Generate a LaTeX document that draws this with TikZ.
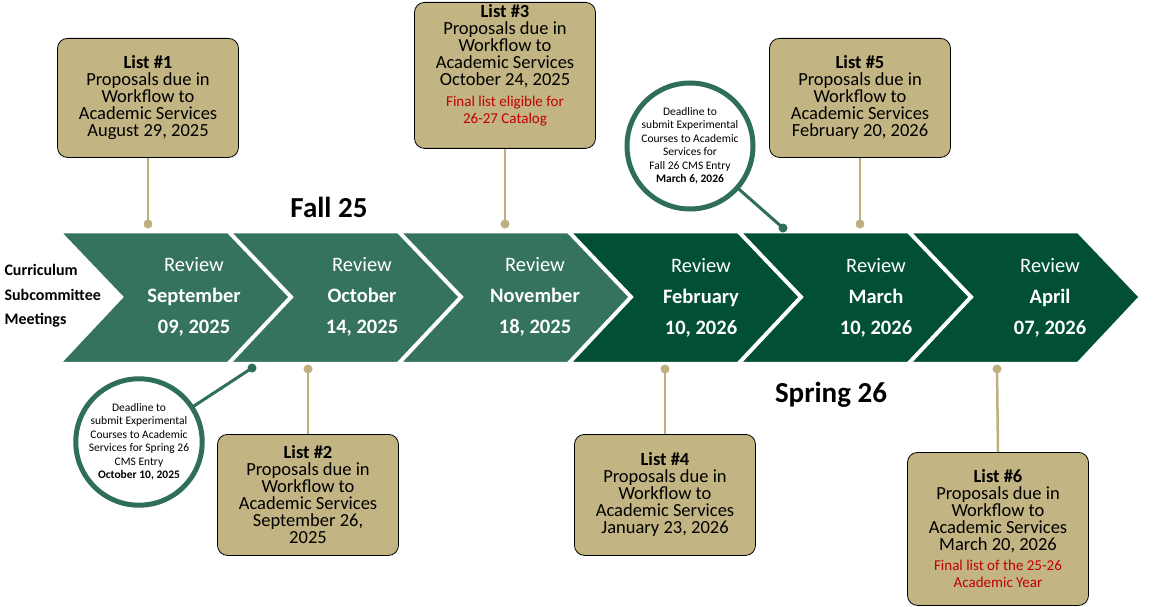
\documentclass[tikz,border=0pt]{standalone}
\usepackage{fontspec}
\setmainfont{Carlito}
\definecolor{lg}{HTML}{35735F}
\definecolor{dg}{HTML}{024F38}
\definecolor{tan}{HTML}{C2B483}
\definecolor{stem}{HTML}{BDAF7E}
\definecolor{ring}{HTML}{2F6E5A}
\definecolor{red}{HTML}{C00000}
\begin{document}
\begin{tikzpicture}[x=1pt,y=-1pt,
  lbox/.style={draw=black,fill=tan,rounded corners=10pt,line width=0.8pt,minimum width=181pt,align=center,anchor=north,inner sep=2pt,font=\fontsize{18.5}{17}\selectfont},
  stemline/.style={draw=stem,line width=2.5pt},
  sdot/.style={circle,fill=stem,inner sep=0pt,minimum size=9pt},
  gdot/.style={circle,fill=ring,inner sep=0pt,minimum size=9pt},
  ringc/.style={circle,draw=ring,line width=5pt,fill=white,minimum size=122pt,align=center,inner sep=0pt,font=\fontsize{11.5}{13.5}\selectfont},
  rev/.style={text=white,align=center,font=\fontsize{20.5}{31}\selectfont}]
\useasboundingbox (0,0) rectangle (1159,607);
% chevrons
\foreach \i/\c in {0/lg,1/lg,2/lg,3/dg,4/dg,5/dg}{
  \pgfmathsetmacro\xo{60+170*\i}
  \filldraw[fill=\c,draw=white,line width=2.5pt,line join=miter] (\xo,232) -- (\xo+168,232) -- (\xo+230,297) -- (\xo+168,363) -- (\xo,363) -- (\xo+62,297) -- cycle;
}
\node[rev] (r1) at (194,297) {Review\\\textbf{September}\\\textbf{09, 2025}};
\node[rev] (r2) at (362,297) {Review\\\textbf{October}\\\textbf{14, 2025}};
\node[rev] (r3) at (535,297) {Review\\\textbf{November}\\\textbf{18, 2025}};
\node[rev] (r4) at (701,298) {Review\\\textbf{February}\\\textbf{10, 2026}};
\node[rev] (r5) at (876,298) {Review\\\textbf{March}\\\textbf{10, 2026}};
\node[rev] (r6) at (1050,298) {Review\\\textbf{April}\\\textbf{07, 2026}};
\node[align=left,anchor=west,font=\fontsize{16}{24.5}\bfseries\selectfont] (cur) at (1,296) {Curriculum\\Subcommittee\\Meetings};
\node[font=\fontsize{29}{30}\bfseries\selectfont] (fall) at (329,207) {Fall 25};
\node[font=\fontsize{29}{30}\bfseries\selectfont] (spr) at (831,395) {Spring 26};
% boxes
\def\rt{\fontsize{15}{15.5}\selectfont\color{red}}
\node[lbox,minimum height=119pt] (l1) at (148,38) {\textbf{List \#1}\\Proposals due in\\Workflow to\\Academic Services\\August 29, 2025};
\node[lbox,minimum height=142pt,anchor=north] (l3) at (505,2) {\textbf{List \#3}\\Proposals due in\\Workflow to\\Academic Services\\October 24, 2025\\[4pt]{\rt Final list eligible for}\\{\rt 26-27 Catalog}\\[6pt]};
\node[lbox,minimum height=119pt] (l5) at (860,38) {\textbf{List \#5}\\Proposals due in\\Workflow to\\Academic Services\\February 20, 2026};
\node[lbox,minimum height=121pt] (l2) at (308,434) {\textbf{List \#2}\\Proposals due in\\Workflow to\\Academic Services\\September 26,\\2025};
\node[lbox,minimum height=121pt] (l4) at (665,434) {\textbf{List \#4}\\Proposals due in\\Workflow to\\Academic Services\\January 23, 2026};
\node[lbox,minimum height=153pt] (l6) at (998,452) {\textbf{List \#6}\\Proposals due in\\Workflow to\\Academic Services\\March 20, 2026\\[3pt]{\rt Final list of the 25-26}\\{\rt Academic Year}};
% stems
\node[sdot] (d1) at (148,224) {};
\node[sdot] (d3) at (505,224) {};
\node[sdot] (d5) at (860,224) {};
\node[sdot] (d2) at (308,369) {};
\node[sdot] (d4) at (665,369) {};
\node[sdot] (d6) at (997,369) {};
\draw[stemline] (l1.south) -- (d1.center);
\draw[stemline] (l3.south) -- (d3.center);
\draw[stemline] (l5.south) -- (d5.center);
\draw[stemline] (l2.north) -- (d2.center);
\draw[stemline] (l4.north) -- (d4.center);
\draw[stemline] (l6.north) -- (d6.center);
% circles
\coordinate (k1) at (139,442);
\coordinate (k2) at (690,146);
\node[gdot] (g1) at (252,368) {};
\node[gdot] (g2) at (783,228) {};
\draw[draw=ring,line width=3pt] (g1.center) -- (k1);
\draw[draw=ring,line width=3pt] (g2.center) -- (k2);
\node[ringc] (c1) at (k1) {Deadline to\\submit Experimental\\Courses to Academic\\Services for Spring 26\\CMS Entry\\\textbf{October 10, 2025}};
\node[ringc,minimum size=126pt] (c2) at (k2) {Deadline to\\submit Experimental\\Courses to Academic\\Services for\\Fall 26 CMS Entry\\\textbf{March 6, 2026}};
\end{tikzpicture}
\end{document}
